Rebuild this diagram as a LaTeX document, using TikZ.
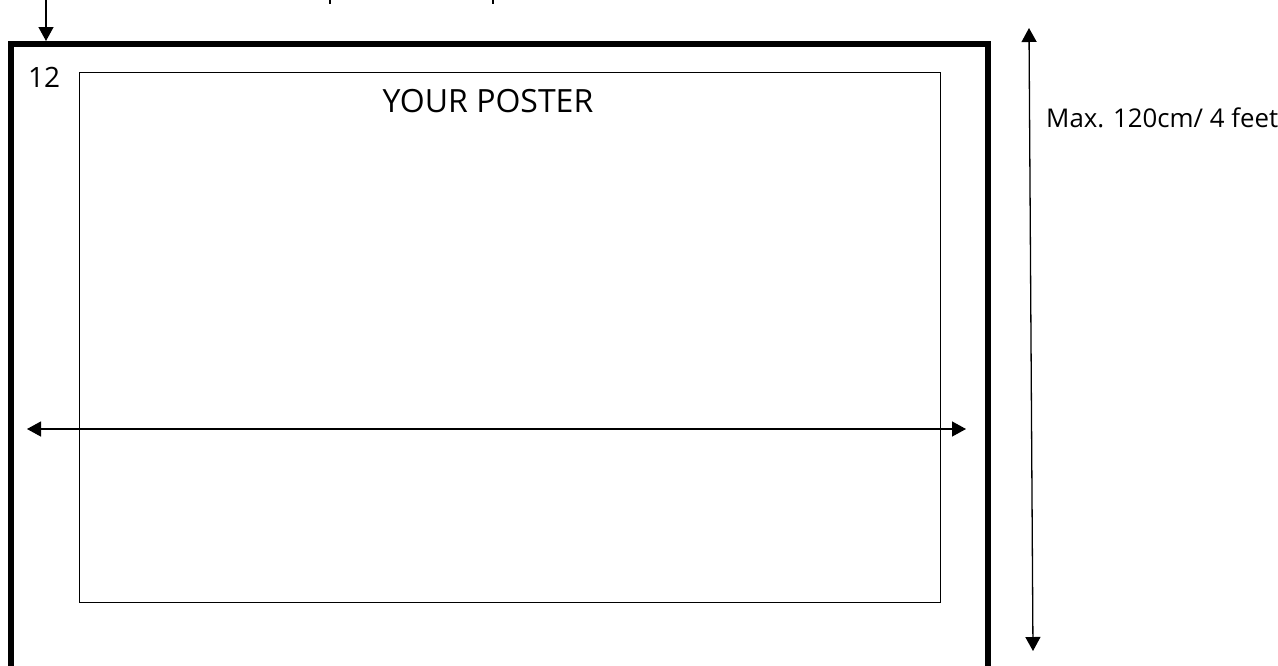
\documentclass[tikz,border=0pt]{standalone}
\usepackage{fontspec}
\setmainfont{Open Sans}
\usetikzlibrary{arrows.meta}
\begin{document}
\begin{tikzpicture}[x=1pt,y=-1pt,
  thinline/.style={line width=1.7pt},
  frameline/.style={line width=6pt},
  dimarrow/.style={line width=1.3pt,-{Triangle[length=14pt,width=15pt]}},
  dimboth/.style={line width=1.3pt,{Triangle[length=14pt,width=15pt]}-{Triangle[length=14pt,width=15pt]}},
  lbl/.style={inner sep=0pt}]
\useasboundingbox (0,0) rectangle (1278,665);
% outer board frame (open at the bottom)
\coordinate (fbl) at (11,670);
\coordinate (ftl) at (11,44);
\coordinate (ftr) at (988,44);
\coordinate (fbr) at (988,670);
\draw[frameline] (fbl) -- (ftl) -- (ftr) -- (fbr);
% poster
\node[draw,thinline,minimum width=861pt,minimum height=530pt,inner sep=0pt,anchor=north west] (poster) at (78.5,71.5) {};
\node[lbl,anchor=base,font=\fontsize{32}{38}\selectfont] (title) at (488,112.5) {YOUR POSTER};
\node[lbl,anchor=base west,font=\fontsize{28}{34}\selectfont] (num) at (28,87) {12};
\node[lbl,anchor=base west,font=\fontsize{25.8}{31}\selectfont] (max) at (1046,127) {Max. 120cm/ 4 feet};
% arrows
\coordinate (tl0) at (46,-2);
\coordinate (tl1) at (46,41);
\draw[dimarrow] (tl0) -- (tl1);
\coordinate (h0) at (27,429);
\coordinate (h1) at (966,429);
\draw[dimboth] (h0) -- (h1);
\coordinate (v0) at (1029,28);
\coordinate (v1) at (1033,651);
\draw[dimboth] (v0) -- (v1);
% fragments of cut-off text at the top edge
\coordinate (t1a) at (330,0);
\coordinate (t1b) at (330,4);
\coordinate (t2a) at (493,0);
\coordinate (t2b) at (493,4);
\draw[thinline] (t1a) -- (t1b);
\draw[thinline] (t2a) -- (t2b);
\end{tikzpicture}
\end{document}
